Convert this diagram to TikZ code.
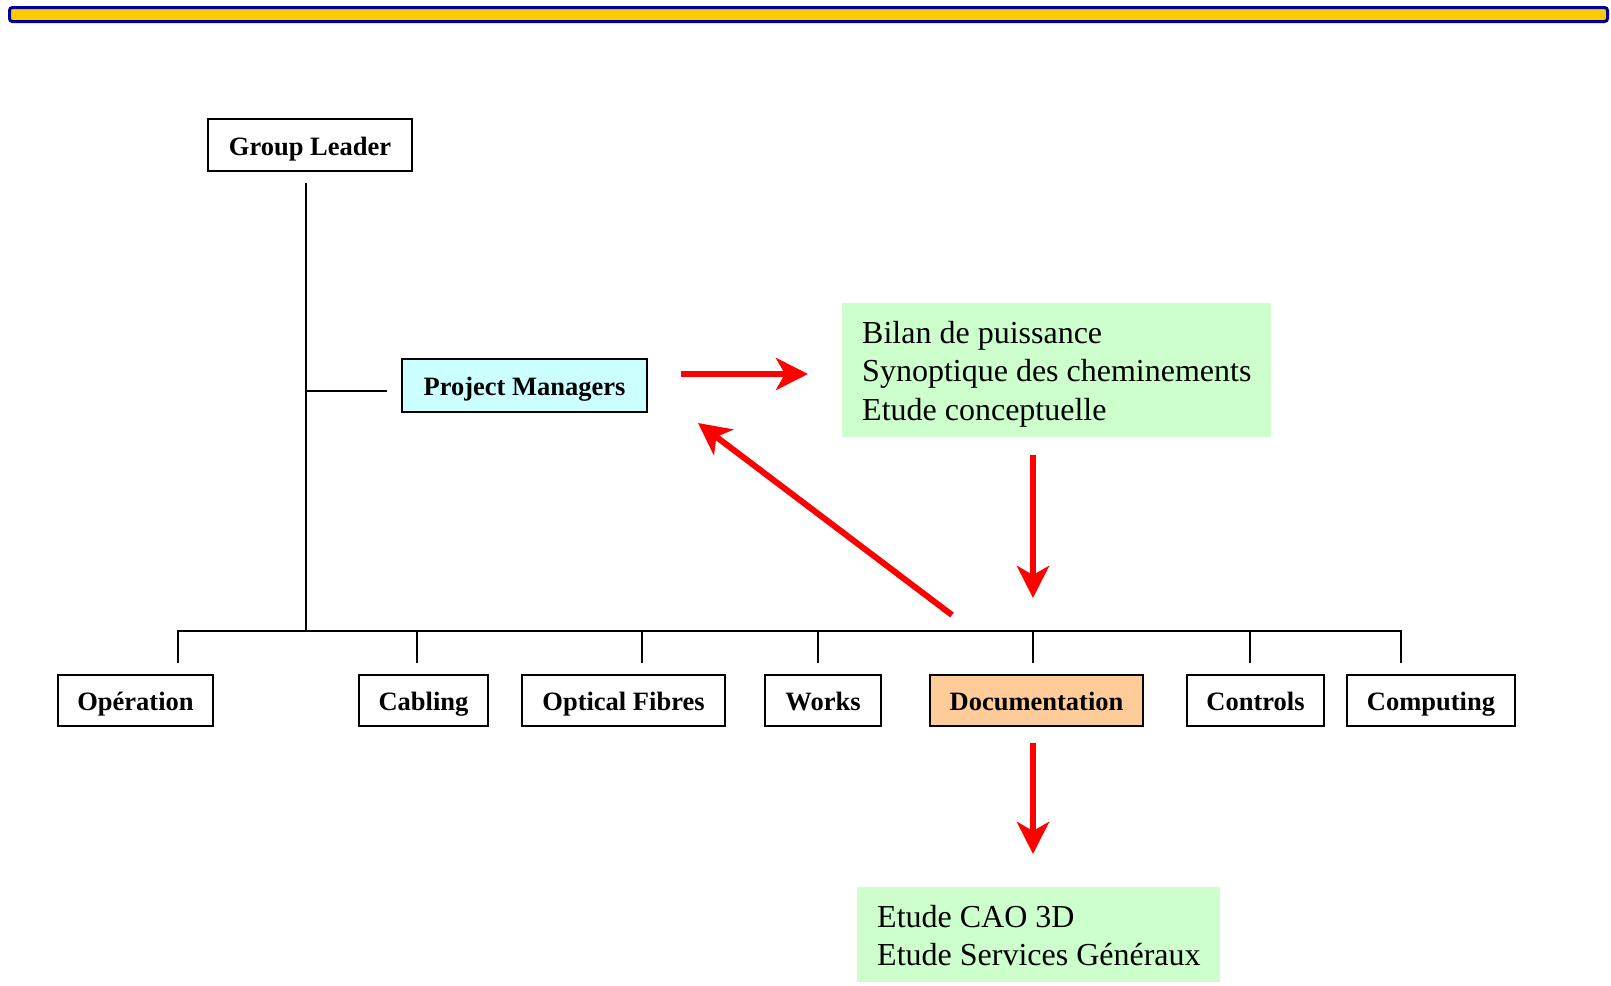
\documentclass[tikz,border=0pt]{standalone}
\usepackage{fontspec}
\setmainfont{Liberation Serif}
\usetikzlibrary{arrows.meta}
\definecolor{barfill}{HTML}{FFCC00}
\definecolor{barline}{HTML}{000099}
\definecolor{pmfill}{HTML}{CCFFFF}
\definecolor{docfill}{HTML}{FFCC99}
\definecolor{gfill}{HTML}{CCFFCC}
\begin{document}
\begin{tikzpicture}[x=1pt,y=-1pt,
  obox/.style={draw=black, line width=2pt, inner sep=0pt, minimum height=51pt,
    font=\fontsize{26.5}{30}\selectfont\bfseries, text height=27pt, text depth=7pt},
  gbox/.style={fill=gfill, inner sep=0pt},
  gtext/.style={anchor=base west, inner sep=0pt, font=\fontsize{32}{38.5}\selectfont},
  link/.style={line width=2pt, black},
  redarrow/.style={line width=6pt, red, -{Stealth[length=32pt,width=32pt,inset=9pt]}},
  topbar/.style={draw=barline, fill=barfill, line width=3pt, rounded corners=3pt},
]
\useasboundingbox (0,0) rectangle (1611,985);

% top bar
\path[topbar] (9.5,7.5) rectangle (1607.5,21.5);

% green boxes
\node[gbox, minimum width=429pt, minimum height=134pt] (g1) at (1056.5,370) {};
\node[gtext] (g1t) at (862,343) {\begin{tabular}[t]{@{}l@{}}Bilan de puissance\\Synoptique des cheminements\\Etude conceptuelle\end{tabular}};
\node[gbox, minimum width=363pt, minimum height=95pt] (g2) at (1038.5,934.5) {};
\node[gtext] (g2t) at (877,927) {\begin{tabular}[t]{@{}l@{}}Etude CAO 3D\\Etude Services Généraux\end{tabular}};

% boxes
\node[obox, minimum width=204pt, minimum height=52pt] (gl) at (310,145) {Group Leader};
\node[obox, fill=pmfill, minimum width=245pt, minimum height=53pt] (pm) at (524.5,385.5) {Project Managers};
\node[obox, minimum width=155pt] (op) at (135.5,700.5) {Opération};
\node[obox, minimum width=129pt] (cab) at (423.5,700.5) {Cabling};
\node[obox, minimum width=203pt] (of) at (623.5,700.5) {Optical Fibres};
\node[obox, minimum width=116pt] (wk) at (823,700.5) {Works};
\node[obox, fill=docfill, minimum width=213pt] (doc) at (1036.5,700.5) {Documentation};
\node[obox, minimum width=137pt] (ctl) at (1255.5,700.5) {Controls};
\node[obox, minimum width=168pt] (cmp) at (1431,700.5) {Computing};

% connector coordinates
\coordinate (glb) at (306,183);
\coordinate (busM) at (306,631);
\coordinate (pmj) at (306,391);
\coordinate (pme) at (387,391);
\coordinate (b1) at (178,631);  \coordinate (t1) at (178,663);
\coordinate (b2) at (417,631);  \coordinate (t2) at (417,663);
\coordinate (b3) at (642,631);  \coordinate (t3) at (642,663);
\coordinate (b4) at (818,631);  \coordinate (t4) at (818,663);
\coordinate (b5) at (1033,631); \coordinate (t5) at (1033,663);
\coordinate (b6) at (1250,631); \coordinate (t6) at (1250,663);
\coordinate (b7) at (1401,631); \coordinate (t7) at (1401,663);

\draw[link] (glb) -- (busM);
\draw[link] (pmj) -- (pme);
\draw[link] (t1) -- (b1) -- (b7) -- (t7);
\draw[link] (b2) -- (t2);
\draw[link] (b3) -- (t3);
\draw[link] (b4) -- (t4);
\draw[link] (b5) -- (t5);
\draw[link] (b6) -- (t6);

% red arrows
\coordinate (r1s) at (681,374);  \coordinate (r1e) at (808,374);
\coordinate (r2s) at (1033,455); \coordinate (r2e) at (1033,598);
\coordinate (r3s) at (952,615);  \coordinate (r3e) at (698,423);
\coordinate (r4s) at (1033,743); \coordinate (r4e) at (1033,854);
\draw[redarrow] (r1s) -- (r1e);
\draw[redarrow] (r2s) -- (r2e);
\draw[redarrow] (r3s) -- (r3e);
\draw[redarrow] (r4s) -- (r4e);
\end{tikzpicture}
\end{document}
